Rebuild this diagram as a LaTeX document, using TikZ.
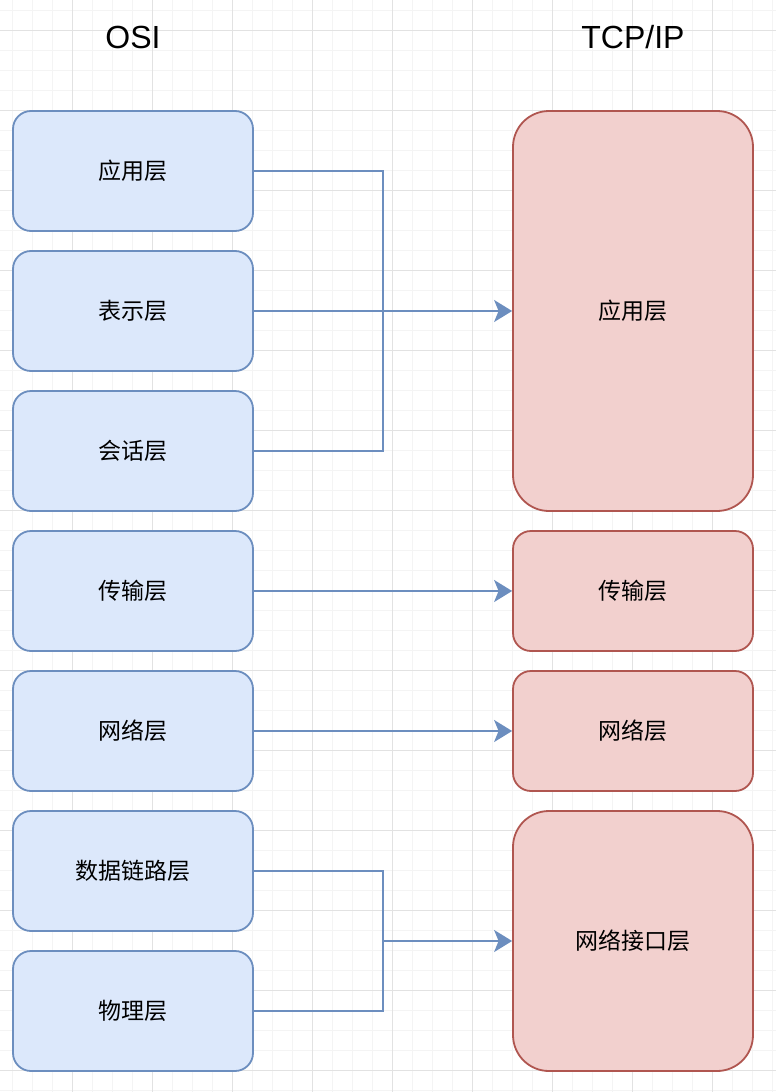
\documentclass[tikz,border=0pt]{standalone}
\usepackage{fontspec}
\setmainfont{Liberation Sans}
\newfontfamily\cjk{Noto Sans CJK SC}
\usepackage{xcolor}
\usetikzlibrary{arrows.meta, positioning, backgrounds}
\definecolor{osiblue}{HTML}{DCE8FB}
\definecolor{osiedge}{HTML}{6C8EBF}
\definecolor{tcpred}{HTML}{F2D0CE}
\definecolor{tcpedge}{HTML}{B05650}
\definecolor{gridminor}{HTML}{F4F4F4}
\definecolor{gridmajor}{HTML}{E2E2E2}

\begin{document}
\begin{tikzpicture}[
    x=1pt, y=-1pt,
    osibox/.style={rectangle, rounded corners=18pt, draw=osiedge, fill=osiblue, line width=1.8pt, minimum width=240pt, minimum height=120pt, inner sep=0pt, font=\cjk\fontsize{23}{28}\selectfont},
    tcpbox/.style={osibox, draw=tcpedge, fill=tcpred},
    title/.style={font=\fontsize{32}{38}\selectfont},
    wire/.style={draw=osiedge, line width=1.8pt},
    arrow/.style={wire, -{Stealth[length=18pt, width=22pt, inset=4.5pt]}}
]
\useasboundingbox (0,0) rectangle (776,1092);

% grid paper
\begin{scope}[on background layer]
\fill[white] (0,0) rectangle (776,1092);
\foreach \x in {12,32,...,772} \draw[gridminor, line width=1pt] (\x,0) -- (\x,1092);
\foreach \y in {10,30,...,1090} \draw[gridminor, line width=1pt] (0,\y) -- (776,\y);
\foreach \x in {72,152,...,772} \draw[gridmajor, line width=1pt] (\x,0) -- (\x,1092);
\foreach \y in {30,110,...,1090} \draw[gridmajor, line width=1pt] (0,\y) -- (776,\y);
\end{scope}

% OSI layers
\foreach \name/\y/\txt in {osiApp/171/应用层, osiPre/311/表示层, osiSes/451/会话层, osiTra/591/传输层, osiNet/731/网络层, osiDat/871/数据链路层, osiPhy/1011/物理层} {
    \node[osibox] (\name) at (133,\y) {\txt};
}
\node[title] (osiTitle) at (133,37) {OSI};

% TCP/IP layers
\node[tcpbox, minimum height=400pt, rounded corners=36pt] (tcpApp) at (633,311) {应用层};
\node[tcpbox] (tcpTra) at (633,591) {传输层};
\node[tcpbox] (tcpNet) at (633,731) {网络层};
\node[tcpbox, minimum height=260pt, rounded corners=36pt] (tcpLnk) at (633,941) {网络接口层};
\node[title] (tcpTitle) at (633,37) {TCP/IP};

% Connections
\coordinate (busTop) at (383,311);
\coordinate (busBot) at (383,941);
\draw[wire] (osiApp.east) -| (busTop) |- (osiSes.east);
\draw[arrow] (osiPre.east) -- (tcpApp.west);
\draw[arrow] (osiTra.east) -- (tcpTra.west);
\draw[arrow] (osiNet.east) -- (tcpNet.west);
\draw[wire] (osiDat.east) -| (busBot) |- (osiPhy.east);
\draw[arrow] (busBot) -- (tcpLnk.west);
\end{tikzpicture}
\end{document}
